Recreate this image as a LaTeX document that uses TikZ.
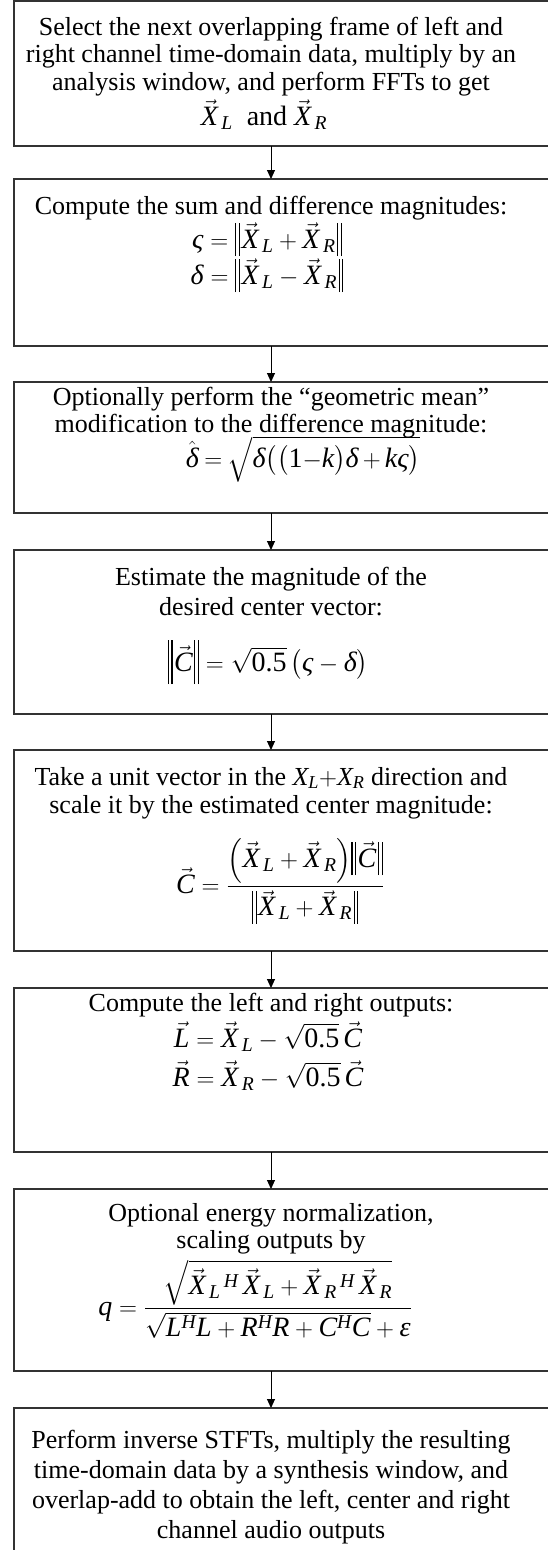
\documentclass[tikz,border=0pt]{standalone}
\usepackage{amsmath}
\usepackage{fontspec}
\setmainfont{Liberation Serif}
\usetikzlibrary{arrows.meta}
\newcommand{\mysig}{\text{\itshape ς}}
\newcommand{\mydel}{\text{\itshape δ}}
\newcommand{\myeps}{\text{\itshape ε}}
\newcommand{\myX}[1]{\vec{\mathit{X}}_{\mkern3mu\mathit{#1}}}
\newcommand{\myV}[1]{\vec{\mathit{#1}}}
\newcommand{\mynum}[1]{\text{#1}}
% double bar of given depth and total height
\newcommand{\mydbar}[2]{\rule[-#1]{1.1pt}{#2}\kern2.6pt\rule[-#1]{1.1pt}{#2}}
\newcommand{\mynorm}[3]{\mathopen{\mydbar{#1}{#2}\kern1.5pt}#3\mathclose{\kern1.5pt\mydbar{#1}{#2}}}
\begin{document}
\begin{tikzpicture}[x=1pt,y=-1pt,
  box/.style={draw=black!80, line width=1.2pt, anchor=north west, minimum width=600pt, inner sep=0pt, outer sep=0pt},
  txt/.style={anchor=base, inner sep=0pt, font=\fontsize{26}{30}\selectfont},
  eq/.style={anchor=base, inner sep=0pt, font=\fontsize{28}{27}\selectfont},
  flow/.style={draw=black, line width=1pt, -{Triangle[length=9pt,width=8pt]}}]
\useasboundingbox (0,0) rectangle (548,1550);
\clip (0,0) rectangle (548,1550);
\coordinate (ax) at (271,0);
% boxes
\node[box, minimum height=145pt] (b1) at (14,1) {};
\node[box, minimum height=167pt] (b2) at (14,179) {};
\node[box, minimum height=131pt] (b3) at (14,382) {};
\node[box, minimum height=164pt] (b4) at (14,550) {};
\node[box, minimum height=201pt] (b5) at (14,750) {};
\node[box, minimum height=164pt] (b6) at (14,988) {};
\node[box, minimum height=182pt] (b7) at (14,1189) {};
\node[box, minimum height=200pt] (b8) at (14,1408) {};
% box 1
\node[txt] (t1a) at (271,35) {Select the next overlapping frame of left and};
\node[txt] (t1b) at (271,62) {right channel time-domain data, multiply by an};
\node[txt] (t1c) at (271,90) {analysis window, and perform FFTs to get};
\node[eq] (t1d) at (264,125) {$\myX{L}$\enskip and $\myX{R}$};
% box 2
\node[txt] (t2a) at (271,214) {Compute the sum and difference magnitudes:};
\node[eq] (t2b) at (267,248) {$\mysig=\mynorm{8pt}{33pt}{\myX{L}+\myX{R}}$};
\node[eq] (t2c) at (267,284) {$\mydel=\mynorm{8pt}{33pt}{\myX{L}-\myX{R}}$};
% box 3
\node[txt] (t3a) at (271,405) {Optionally perform the “geometric mean”};
\node[txt] (t3b) at (271,432) {modification to the difference magnitude:};
\node[eq] (t3c) at (303,467) {\thickmuskip=4mu\medmuskip=3mu$\hat{\mydel}=\sqrt{\mydel\bigl(\bigl(\mynum{1}{-}\mathit{k}\bigr)\mydel+\mathit{k}\mysig\bigr)}$};
% box 4
\node[txt] (t4a) at (271,585) {Estimate the magnitude of the};
\node[txt] (t4b) at (271,615) {desired center vector:};
\node[eq] (t4c) at (268,671) {$\mynorm{13pt}{44pt}{\myV{C}}=\sqrt{\mynum{0.5}}\,\bigl(\mysig-\mydel\bigr)$};
% box 5
\node[txt] (t5a) at (271,785) {Take a unit vector in the $\mathit{X_L}{+}\mathit{X_R}$ direction and};
\node[txt] (t5b) at (271,813) {scale it by the estimated center magnitude:};
\node[eq] (t5c) at (280,893) {$\myV{C}=\dfrac{\Bigl(\myX{L}+\myX{R}\Bigr)\mynorm{8pt}{33pt}{\myV{C}}}{\mynorm{8pt}{33pt}{\myX{L}+\myX{R}}}$};
% box 6
\node[txt] (t6a) at (271,1011) {Compute the left and right outputs:};
\node[eq] (t6b) at (268,1047) {$\myV{L}=\myX{L}-\sqrt{\mynum{0.5}}\,\myV{C}$};
\node[eq] (t6c) at (268,1086) {$\myV{R}=\myX{R}-\sqrt{\mynum{0.5}}\,\myV{C}$};
% box 7
\node[txt] (t7a) at (271,1221) {Optional energy normalization,};
\node[txt] (t7b) at (271,1248) {scaling outputs by};
\node[eq] (t7c) at (255,1315) {$\mathit{q}=\dfrac{\sqrt{\myX{L}{}^{\mkern3mu\mathit{H}}\mkern3mu\myX{L}+\myX{R}{}^{\mkern3mu\mathit{H}}\mkern3mu\myX{R}}}{\medmuskip=3mu\sqrt{\mathit{L}^{\mathit{H}}\mathit{L}+\mathit{R}^{\mathit{H}}\mathit{R}+\mathit{C}^{\mathit{H}}\mathit{C}}+\myeps}$};
% box 8
\node[txt] (t8a) at (271,1448) {Perform inverse STFTs, multiply the resulting};
\node[txt] (t8b) at (271,1478) {time-domain data by a synthesis window, and};
\node[txt] (t8c) at (271,1508) {overlap-add to obtain the left, center and right};
\node[txt] (t8d) at (271,1538) {channel audio outputs};
% connectors
\draw[flow] (b1.south -| ax) -- (b2.north -| ax);
\draw[flow] (b2.south -| ax) -- (b3.north -| ax);
\draw[flow] (b3.south -| ax) -- (b4.north -| ax);
\draw[flow] (b4.south -| ax) -- (b5.north -| ax);
\draw[flow] (b5.south -| ax) -- (b6.north -| ax);
\draw[flow] (b6.south -| ax) -- (b7.north -| ax);
\draw[flow] (b7.south -| ax) -- (b8.north -| ax);
\end{tikzpicture}
\end{document}
